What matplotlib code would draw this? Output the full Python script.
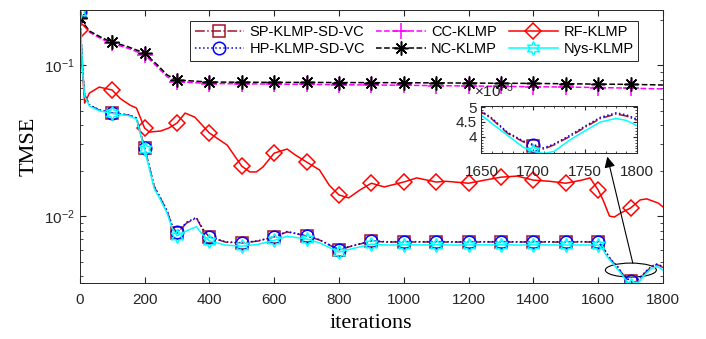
import numpy as np
import matplotlib
matplotlib.use('Agg')
import matplotlib.pyplot as plt
from matplotlib.patches import Ellipse
from matplotlib.ticker import FuncFormatter

plt.rcParams['font.family'] = ['Liberation Sans', 'DejaVu Sans']
plt.rcParams['mathtext.fontset'] = 'custom'
plt.rcParams['mathtext.rm'] = 'Liberation Sans'
plt.rcParams['mathtext.it'] = 'Liberation Sans:italic'
plt.rcParams['mathtext.bf'] = 'Liberation Sans:bold'

# iterations
it_low = [0, 10, 15, 30, 60, 100, 150, 175, 185, 200, 215, 230, 250, 270, 285, 300, 330, 360, 380,
          400, 450, 500, 550, 600, 640, 700, 740, 800, 830, 900, 950, 1000, 1050, 1100, 1150, 1200,
          1250, 1300, 1350, 1400, 1450, 1500, 1550, 1600, 1615, 1625, 1640, 1650, 1660, 1675, 1690,
          1700, 1710, 1720, 1735, 1750, 1765, 1780, 1790, 1800]
sp = [0.224, 0.0859, 0.0633, 0.0543, 0.0503, 0.0481, 0.0467, 0.0446, 0.0371, 0.0282, 0.0211, 0.0156,
      0.0130, 0.0107, 0.0086, 0.0077, 0.0090, 0.0097, 0.0081, 0.00727, 0.00672, 0.00662, 0.00683,
      0.00727, 0.00785, 0.00739, 0.00694, 0.00597, 0.00624, 0.00683, 0.00672, 0.00675, 0.00673,
      0.00675, 0.00672, 0.00674, 0.00673, 0.00675, 0.00672, 0.00674, 0.00673, 0.00672, 0.00674,
      0.00672, 0.0062, 0.0057, 0.0051, 0.00484, 0.00460, 0.00412, 0.00383, 0.00370, 0.00358,
      0.00372, 0.00400, 0.00432, 0.00462, 0.00477, 0.00470, 0.00456]
hp = [0.224, 0.0862, 0.0635, 0.0545, 0.0505, 0.0482, 0.0468, 0.0447, 0.0372, 0.0283, 0.0212, 0.0157,
      0.0131, 0.0108, 0.0087, 0.0078, 0.0091, 0.0098, 0.0082, 0.00730, 0.00675, 0.00665, 0.00686,
      0.00730, 0.00790, 0.00742, 0.00697, 0.00600, 0.00627, 0.00686, 0.00675, 0.00678, 0.00676,
      0.00678, 0.00675, 0.00677, 0.00676, 0.00678, 0.00675, 0.00677, 0.00676, 0.00675, 0.00677,
      0.00675, 0.00623, 0.00573, 0.00513, 0.00487, 0.00463, 0.00415, 0.00386, 0.00373, 0.00362,
      0.00375, 0.00404, 0.00436, 0.00466, 0.00481, 0.00474, 0.00460]
nys = [0.224, 0.083, 0.062, 0.0535, 0.0498, 0.0478, 0.0463, 0.0440, 0.0365, 0.0278, 0.0205, 0.0152,
       0.0127, 0.0104, 0.0083, 0.0074, 0.0080, 0.0085, 0.0075, 0.00685, 0.00642, 0.00632, 0.00650,
       0.00690, 0.00735, 0.00705, 0.00665, 0.00578, 0.00600, 0.00652, 0.00643, 0.00645, 0.00644,
       0.00645, 0.00643, 0.00644, 0.00644, 0.00645, 0.00643, 0.00644, 0.00644, 0.00643, 0.00644,
       0.00642, 0.0060, 0.0055, 0.0050, 0.00473, 0.00445, 0.00405, 0.00365, 0.00350, 0.00343,
       0.00350, 0.00388, 0.00420, 0.00450, 0.00462, 0.00455, 0.00438]

it_nc = [0, 30, 70, 100, 150, 200, 240, 270, 300, 350, 400, 500, 600, 700, 800, 900, 1000, 1100,
         1200, 1300, 1400, 1500, 1600, 1700, 1800]
nc = [0.2046, 0.168, 0.151, 0.142, 0.132, 0.120, 0.100, 0.0859, 0.0796, 0.0784, 0.0772, 0.0770,
      0.0768, 0.0768, 0.0766, 0.0765, 0.0764, 0.0762, 0.0760, 0.0758, 0.0756, 0.0752, 0.0748,
      0.0745, 0.0738]
cc = [0.2046, 0.165, 0.148, 0.139, 0.129, 0.117, 0.097, 0.0835, 0.0775, 0.0765, 0.0755, 0.0752,
      0.0748, 0.0745, 0.0742, 0.0738, 0.0735, 0.0731, 0.0727, 0.0723, 0.0719, 0.0715, 0.0710,
      0.0703, 0.0695]

it_rf = [0, 15, 30, 60, 100, 125, 155, 175, 200, 215, 250, 275, 300, 325, 355, 400, 455, 500, 525,
         545, 565, 600, 640, 665, 700, 740, 770, 800, 830, 865, 900, 940, 960, 1000, 1040, 1100,
         1130, 1200, 1250, 1300, 1350, 1400, 1450, 1500, 1550, 1575, 1600, 1615, 1635, 1650, 1670,
         1700, 1730, 1750, 1785, 1800]
rf = [0.171, 0.056, 0.0653, 0.0715, 0.0683, 0.060, 0.0543, 0.0519, 0.0383, 0.0360, 0.0366, 0.0383,
      0.0413, 0.0481, 0.0452, 0.0355, 0.0295, 0.0214, 0.0196, 0.0196, 0.0211, 0.0261, 0.0278,
      0.0254, 0.0228, 0.0202, 0.0160, 0.0138, 0.0132, 0.0149, 0.0165, 0.0156, 0.0160, 0.0168,
      0.0179, 0.0168, 0.0170, 0.0165, 0.0173, 0.0181, 0.0184, 0.0173, 0.0170, 0.0165, 0.0173,
      0.0179, 0.0149, 0.0128, 0.0100, 0.00985, 0.0105, 0.0113, 0.0128, 0.0130, 0.0122, 0.0115]


def marks(it):
    return [i for i, t in enumerate(it) if t % 100 == 0 and t <= 1700]


styles = [
    ('SP-KLMP-SD-VC', it_low, sp, dict(color='#A2142F', ls='-.', marker='s', ms=8)),
    ('HP-KLMP-SD-VC', it_low, hp, dict(color='#0000FF', ls=':', marker='o', ms=9)),
    ('CC-KLMP', it_nc, cc, dict(color='#FF00FF', ls='--', marker='+', ms=11)),
    ('NC-KLMP', it_nc, nc, dict(color='black', ls='--', marker=(8, 2, 0), ms=10)),
    ('RF-KLMP', it_rf, rf, dict(color='#FF0000', ls='-', marker='D', ms=8)),
    ('Nys-KLMP', it_low, nys, dict(color='#00FFFF', ls='-', marker=(6, 1, 0), ms=10)),
]

fig = plt.figure(figsize=(7.06, 3.39), dpi=100)
ax = fig.add_axes([0.113, 0.165, 0.826, 0.805])

for name, it, y, st in styles:
    ax.plot(it, y, lw=1.1, mfc='none', mew=1.1, markevery=marks(it), label=name, **st)

ax.set_yscale('log')
ax.set_xlim(0, 1800)
ax.set_ylim(0.0036, 0.231)
ax.set_xticks(range(0, 1801, 200))
ax.tick_params(which='both', direction='in', top=True, right=True, colors='#262626', labelsize=11)
ax.tick_params(which='major', length=4)
ax.tick_params(which='minor', length=2.2)
ax.tick_params(axis='x', pad=7)
for s in ax.spines.values():
    s.set_color('#262626')
    s.set_linewidth(0.7)
ax.set_xlabel('iterations', family=['Liberation Serif'], fontsize=16, labelpad=5)
ax.set_ylabel('TMSE', family=['Liberation Serif'], fontsize=16, labelpad=4)

leg = ax.legend(ncol=3, loc='upper right', bbox_to_anchor=(0.957, 0.960), borderaxespad=0,
                fontsize=10.5, fancybox=False, edgecolor='#262626', framealpha=1,
                handlelength=3.4, handletextpad=0.35, columnspacing=0.8, labelspacing=0.2,
                borderpad=0.3)
leg.get_frame().set_linewidth(0.7)

# zoom marker
ax.add_patch(Ellipse((0.945, 0.0476), 0.0875, 0.0513, transform=ax.transAxes,
                     fill=False, ec='black', lw=0.8))

# inset
axins = fig.add_axes([0.682, 0.549, 0.220, 0.139])
for name, it, y, st in [styles[0], styles[1], styles[5]]:
    axins.plot(it, y, lw=1.1, mfc='none', mew=1.1, markevery=marks(it), **st)
axins.set_xlim(1650, 1800)
axins.set_ylim(3.45e-3, 5.05e-3)
axins.set_xticks([1650, 1700, 1750, 1800])
axins.set_yticks([4e-3, 4.5e-3, 5e-3])
axins.yaxis.set_major_formatter(FuncFormatter(lambda v, p: f'{v * 1e3:g}'))
axins.text(-0.05, 1.12, r'$\times10^{-3}$', transform=axins.transAxes, ha='left', va='bottom',
           fontsize=11, color='#262626')
axins.minorticks_on()
axins.tick_params(which='both', direction='in', top=True, right=True, colors='#262626', labelsize=11)
axins.tick_params(which='major', length=3)
axins.tick_params(which='minor', length=1.5)
axins.tick_params(axis='x', pad=9)
axins.patch.set_facecolor('white')
for s in axins.spines.values():
    s.set_color('#262626')
    s.set_linewidth(0.7)

ax.annotate('', xy=(0.81, -0.08), xycoords=axins.transAxes,
            xytext=(1707, 0.00488), textcoords='data',
            arrowprops=dict(arrowstyle='-|>', color='black', lw=0.8, mutation_scale=16,
                            shrinkA=0, shrinkB=0))

fig.savefig('out.png', dpi=100)
